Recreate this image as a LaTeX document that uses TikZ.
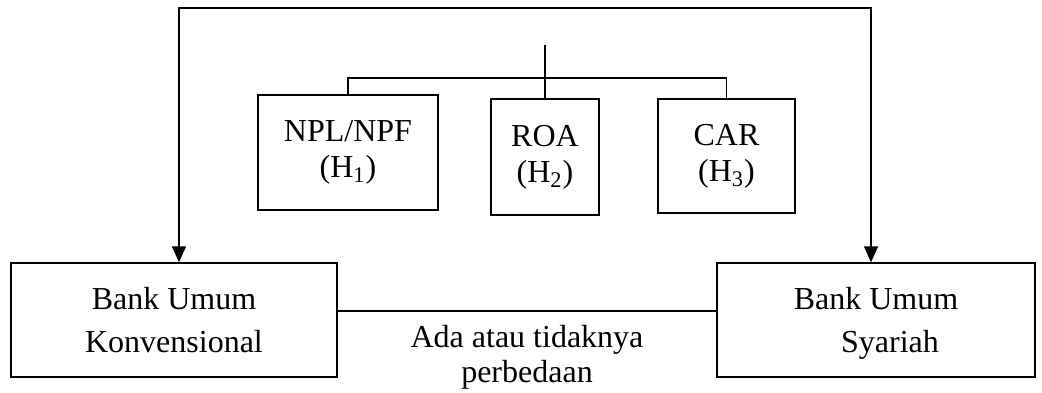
\documentclass[tikz,border=0pt]{standalone}
\usepackage{fontspec}
\setmainfont{Liberation Serif}
\usetikzlibrary{positioning,arrows.meta}

\begin{document}
\begin{tikzpicture}[
  x=0.5pt, y=-0.5pt,
  line width=0.7pt,
  box/.style={draw, line width=0.7pt, align=center, inner sep=2pt, font=\fontsize{16}{18}\selectfont},
  bank/.style={box, minimum height=57pt, text depth=0pt, font=\fontsize{16}{21.5}\selectfont},
  arr/.style={{Triangle[length=8pt,width=7pt]}-{Triangle[length=8pt,width=7pt]}},
  lab/.style={font=\fontsize{16}{17.5}\selectfont, align=center, inner sep=0pt},
]
  \useasboundingbox (0,0) rectangle (1042,392);
  % ratios
  \node[box, minimum width=90pt, minimum height=57.5pt] (npl) at (348,152.5) {NPL/NPF\\(H\textsubscript{1})};
  \node[box, minimum width=54pt, minimum height=58pt] (roa) at (545,157) {ROA\\(H\textsubscript{2})};
  \node[box, minimum width=68.5pt, minimum height=57pt] (car) at (726.5,156) {CAR\\(H\textsubscript{3})};
  % banks
  \node[bank, minimum width=163pt] (bku) at (174,320) {Bank Umum\\ Konvensional};
  \node[bank, minimum width=159pt] (bks) at (876,320) {Bank Umum\\ \hspace*{14pt}Syariah};
  % helper points
  \coordinate (hub) at (545,45);
  \coordinate (bus) at (545,78);
  \coordinate (topL) at (179,8);
  \coordinate (topR) at (871,8);
  \coordinate (link) at (527,311);
  % lines
  \draw (hub) -- (roa.north);
  \draw (npl.north) |- (bus) -| (car.north);
  \draw[arr] (topL |- bku.north) -- (topL) -- (topR) -- (topR |- bks.north);
  \draw (bku.east |- link) -- node[lab, below=7pt]{Ada atau tidaknya\\perbedaan} (bks.west |- link);
\end{tikzpicture}
\end{document}
